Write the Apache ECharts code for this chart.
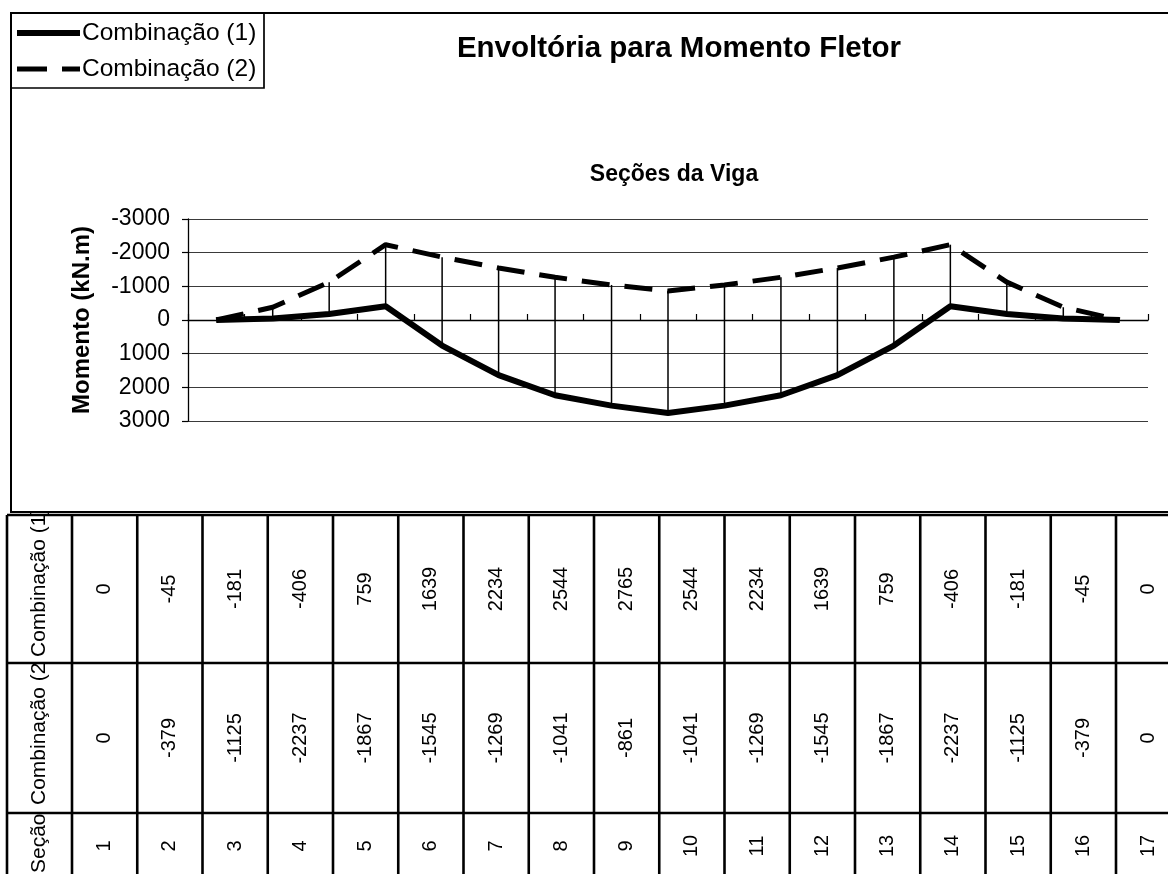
<!DOCTYPE html>
<html>
<head>
<meta charset="utf-8">
<script src="https://cdn.jsdelivr.net/npm/echarts@6/dist/echarts.min.js"></script>
<style>
  html, body { margin: 0; padding: 0; background: #fff; }
  #chart { width: 1168px; height: 874px; }
</style>
</head>
<body>
<div id="chart"></div>
<script>
// Beam sections and bending-moment envelopes (kN.m)
const sections = ['1', '2', '3', '4', '5', '6', '7', '8', '9', '10', '11', '12', '13', '14', '15', '16', '17'];
const comb1 = [0, -45, -181, -406, 759, 1639, 2234, 2544, 2765, 2544, 2234, 1639, 759, -406, -181, -45, 0];
const comb2 = [0, -379, -1125, -2237, -1867, -1545, -1269, -1041, -861, -1041, -1269, -1545, -1867, -2237, -1125, -379, 0];
const seriesNames = ['Combinação (1)', 'Combinação (2)'];
const tableRowLabels = ['Combinação (1)', 'Combinação (2)', 'Seção'];
const chartTitle = 'Envoltória para Momento Fletor';
const xAxisTitle = 'Seções da Viga';
const yAxisTitle = 'Momento (kN.m)';

const FONT = "'Liberation Sans', Arial, sans-serif";
const SOLID_W = 6, DASH_W = 5, DASH = [28, 15];

// Data table layout
const tbl = {
  left: 7, labelRight: 72, colW: 65.25,
  rowLines: [515, 663, 813],
  bottom: 880,
  rowCenters: [589, 738, 846],
  labelStarts: [657, 805, 873]
};

function buildLegend() {
  const els = [];
  els.push({ type: 'rect', shape: { x: 11, y: 13, width: 253, height: 75 },
    style: { fill: '#fff', stroke: '#000', lineWidth: 1.7 }, z: 5 });
  seriesNames.forEach((name, i) => {
    const y = 33 + i * 36;
    els.push({ type: 'line', shape: { x1: 17, y1: y, x2: 80, y2: y },
      style: { stroke: '#000', lineWidth: i === 0 ? SOLID_W : DASH_W, lineDash: i === 0 ? null : [30, 15] }, z: 6 });
    els.push({ type: 'text', x: 82, y: y,
      style: { text: name, align: 'left', verticalAlign: 'middle', fontFamily: FONT, fontSize: 24.5, fill: '#000' }, z: 6 });
  });
  return els;
}

function buildTable() {
  const els = [];
  const lw = 2.6;
  tbl.rowLines.forEach(y => {
    els.push({ type: 'line', shape: { x1: tbl.left, y1: y, x2: 1200, y2: y },
      style: { stroke: '#000', lineWidth: lw }, z: 30 });
  });
  const xs = [tbl.left, tbl.labelRight];
  for (let k = 1; k <= sections.length; k++) xs.push(tbl.labelRight + k * tbl.colW);
  xs.forEach(x => {
    els.push({ type: 'line', shape: { x1: x, y1: tbl.rowLines[0], x2: x, y2: tbl.bottom },
      style: { stroke: '#000', lineWidth: lw }, z: 30 });
  });
  // row headings read upward from the bottom of their cell; text running past the
  // top of the two long headings is hidden behind a white mask
  const labelX = (tbl.left + tbl.labelRight) / 2;
  const order = [2, 1, 0];
  order.forEach((r, n) => {
    els.push({ type: 'text', x: labelX, y: tbl.labelStarts[r], rotation: Math.PI / 2,
      style: { x: 0, y: 0, text: tableRowLabels[r], align: 'left', verticalAlign: 'middle',
        fontFamily: FONT, fontSize: 21, fill: '#000' }, z: 11 + n * 2 });
    if (r < 2) {
      const top = r === 0 ? 513 : tbl.rowLines[r];
      els.push({ type: 'rect', shape: { x: tbl.left + 1, y: top - 30, width: tbl.labelRight - tbl.left - 2, height: 30 },
        style: { fill: '#fff' }, z: 12 + n * 2 });
    }
  });
  const rows = [comb1.map(String), comb2.map(String), sections];
  rows.forEach((vals, r) => {
    vals.forEach((v, i) => {
      els.push({ type: 'text', x: tbl.labelRight + (i + 0.5) * tbl.colW, y: tbl.rowCenters[r], rotation: Math.PI / 2,
        style: { x: 0, y: 0, text: v, align: 'center', verticalAlign: 'middle',
          fontFamily: FONT, fontSize: 20, fill: '#000' }, z: 11 });
    });
  });
  return els;
}

const chart = echarts.init(document.getElementById('chart'), null, { renderer: 'canvas' });

const option = {
  backgroundColor: '#fff',
  animation: false,
  grid: { left: 188, top: 219, width: 960, height: 202, containLabel: false },
  xAxis: {
    type: 'category',
    data: sections,
    boundaryGap: true,
    axisLine: { onZero: true, lineStyle: { color: '#000', width: 1.3 } },
    axisTick: { show: true, inside: true, length: 6, lineStyle: { color: '#000', width: 1.2 } },
    axisLabel: { show: false },
    splitLine: { show: false }
  },
  yAxis: {
    type: 'value',
    inverse: true,
    min: -3000, max: 3000, interval: 1000,
    name: yAxisTitle,
    nameLocation: 'middle',
    nameGap: 94,
    nameTextStyle: { fontFamily: FONT, fontSize: 24, fontWeight: 'bold', color: '#000' },
    axisLine: { show: true, lineStyle: { color: '#000', width: 1.3 } },
    axisTick: { show: true, length: 6, lineStyle: { color: '#000', width: 1.2 } },
    axisLabel: { fontFamily: FONT, fontSize: 23, color: '#000', margin: 18, formatter: v => String(v) },
    splitLine: { show: true, lineStyle: { color: '#3a3a3a', width: 1.2 } }
  },
  graphic: [
    // chart frame
    { type: 'rect', shape: { x: 11, y: 13, width: 1200, height: 499 },
      style: { fill: null, stroke: '#000', lineWidth: 2 }, z: 40, silent: true },
    { type: 'text', x: 679, y: 49,
      style: { text: chartTitle, align: 'center', verticalAlign: 'middle', fontFamily: FONT,
        fontSize: 29.5, fontWeight: 'bold', fill: '#000' } },
    { type: 'text', x: 674, y: 175,
      style: { text: xAxisTitle, align: 'center', verticalAlign: 'middle', fontFamily: FONT,
        fontSize: 23, fontWeight: 'bold', fill: '#000' } },
    ...buildLegend(),
    ...buildTable()
  ],
  series: [
    {
      // vertical drop lines joining both envelopes at each section
      type: 'custom',
      name: 'dropLines',
      data: sections.map((s, i) => [i, comb1[i], comb2[i]]),
      encode: { x: 0, y: [1, 2] },
      renderItem: function (params, api) {
        const a = api.coord([api.value(0), api.value(1)]);
        const b = api.coord([api.value(0), api.value(2)]);
        return { type: 'line', shape: { x1: a[0], y1: a[1], x2: b[0], y2: b[1] },
          style: { stroke: '#000', lineWidth: 1.5 } };
      },
      z: 1
    },
    {
      name: seriesNames[0], type: 'line', data: comb1, symbol: 'none',
      lineStyle: { color: '#000', width: SOLID_W, join: 'round' }, z: 3
    },
    {
      name: seriesNames[1], type: 'line', data: comb2, symbol: 'none',
      lineStyle: { color: '#000', width: DASH_W, type: DASH }, z: 2
    }
  ]
};

chart.setOption(option);
</script>
</body>
</html>
